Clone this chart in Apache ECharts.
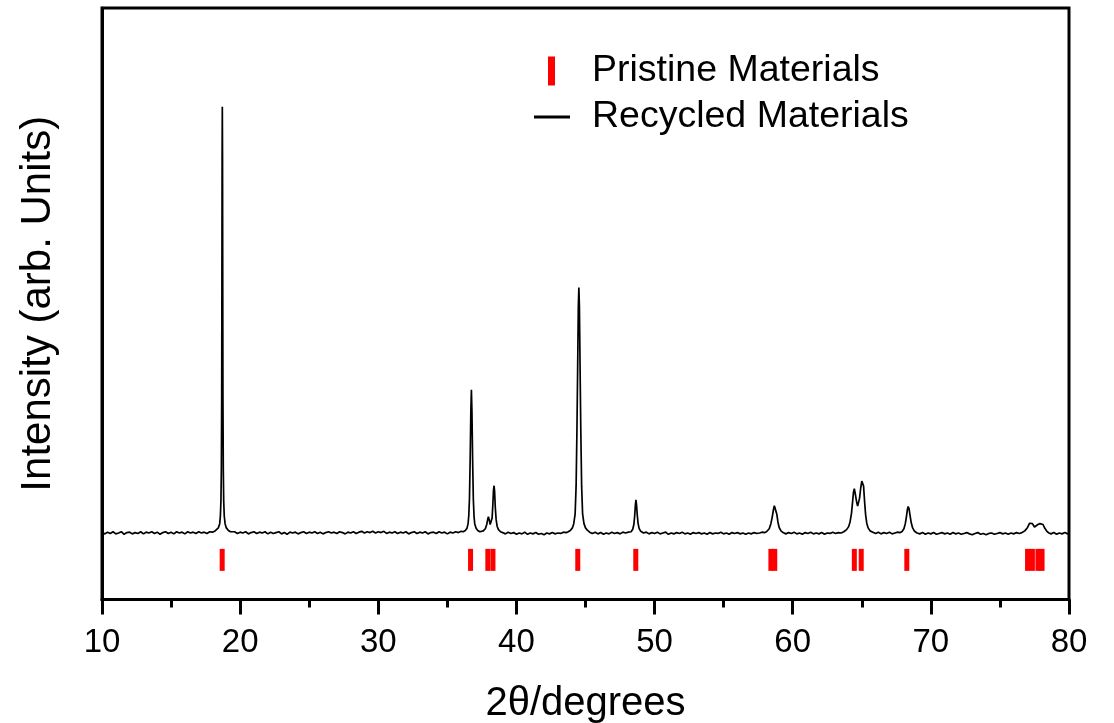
<!DOCTYPE html>
<html>
<head>
<meta charset="utf-8">
<script src="https://cdn.jsdelivr.net/npm/echarts@6/dist/echarts.min.js"></script>
<style>
html,body{margin:0;padding:0;background:#fff;}
#chart{width:1114px;height:723px;}
</style>
</head>
<body>
<div id="chart"></div>
<script>
// ---- data ----
const xTicks = [10, 20, 30, 40, 50, 60, 70, 80];
const seriesNames = ['Pristine Materials', 'Recycled Materials'];
const xAxisTitle = '2\u03b8/degrees';
const yAxisTitle = 'Intensity (arb. Units)';

// Pristine reference reflections (2theta positions)
const pristinePositions = [18.70, 36.68, 37.93, 38.30, 44.44, 48.64, 58.42, 58.70, 64.46, 64.96, 68.26, 77.00, 77.35, 77.75, 78.05];
const pristineLevel = -6.3;

// Recycled pattern [2theta, intensity]
const recycledBaseA = [[10.0,0.1],[10.2,-0.2],[10.4,0.2],[10.6,-0.1],[10.8,0.3],[11.0,-0.2],[11.2,0.0],[11.4,0.3],[11.6,-0.3],[11.8,0.1],[12.0,0.2],[12.2,-0.2],[12.4,0.1],[12.6,-0.1],[12.8,0.3],[13.0,-0.2],[13.2,0.2],[13.4,0.0],[13.6,0.3],[13.8,-0.1],[14.0,0.2],[14.2,-0.3],[14.4,0.1],[14.6,0.3],[14.8,-0.1],[15.0,0.2],[15.2,-0.2],[15.4,0.3],[15.6,0.0],[15.8,0.2],[16.0,-0.2],[16.2,0.3],[16.4,0.0],[16.6,0.2],[16.8,-0.1],[17.0,0.3],[17.2,0.0],[17.4,0.2],[17.6,-0.1],[17.8,0.3],[18.0,0.2],[18.15,0.4]];
const recycledPeak18 = [[18.28,0.6],[18.42,1.2],[18.52,2.2],[18.57,4],[18.61,7.5],[18.64,15],[18.665,32],[18.68,58],[18.695,88],[18.71,100],[18.725,88],[18.74,58],[18.755,32],[18.78,15],[18.81,7.5],[18.85,4],[18.91,2.2],[19.0,1.2],[19.15,0.6],[19.3,0.3]];
const recycledBaseB = [[19.4,0.1],[19.6,0.3],[19.8,-0.1],[20.0,0.2],[20.2,0.0],[20.4,0.3],[20.6,-0.2],[20.8,0.1],[21.0,0.3],[21.2,-0.1],[21.4,0.2],[21.6,0.0],[21.8,0.3],[22.0,-0.2],[22.2,0.2],[22.4,-0.1],[22.6,0.1],[22.8,0.3],[23.0,-0.2],[23.2,0.1],[23.4,-0.3],[23.6,0.2],[23.8,0.0],[24.0,0.2],[24.2,-0.2],[24.4,0.1],[24.6,0.3],[24.8,-0.1],[25.0,0.2],[25.2,0.0],[25.4,0.3],[25.6,-0.1],[25.8,0.2],[26.0,-0.2],[26.2,0.1],[26.4,0.3],[26.6,0.0],[26.8,0.2],[27.0,-0.1],[27.2,0.3],[27.4,0.1],[27.6,-0.2],[27.8,0.2],[28.0,0.0],[28.2,0.3],[28.4,-0.1],[28.6,0.2],[28.8,0.4],[29.0,0.0],[29.2,0.3],[29.4,0.1],[29.6,0.4],[29.8,0.0],[30.0,0.3],[30.2,0.1],[30.4,0.4],[30.6,-0.1],[30.8,0.2],[31.0,0.0],[31.2,0.3],[31.4,-0.1],[31.6,0.2],[31.8,0.0],[32.0,0.3],[32.2,-0.2],[32.4,0.1],[32.6,0.3],[32.8,-0.1],[33.0,0.2],[33.2,0.0],[33.4,0.3],[33.6,-0.2],[33.8,0.1],[34.0,0.2],[34.2,-0.1],[34.4,0.3],[34.6,0.0],[34.8,0.2],[35.0,-0.2],[35.2,0.2],[35.4,0.0],[35.6,0.3],[35.8,0.1],[36.0,0.4],[36.15,0.3]];
const recycledPeak36 = [[36.3,0.6],[36.42,1.1],[36.5,2.2],[36.55,4],[36.6,8],[36.65,17],[36.7,28.5],[36.74,33.6],[36.78,28.5],[36.83,17],[36.88,8],[36.93,4],[36.98,2.2],[37.08,1.1],[37.2,0.6],[37.35,0.3],[37.48,0.4]];
const recycledPeak38 = [[37.6,0.5],[37.75,1.0],[37.85,2.0],[37.92,3.2],[37.97,3.8],[38.03,3.1],[38.1,2.0],[38.17,2.0],[38.24,3.5],[38.29,6.5],[38.34,10.0],[38.38,11.1],[38.42,9.8],[38.47,6.0],[38.53,3.2],[38.6,1.6],[38.7,0.8],[38.85,0.3]];
const recycledBaseC = [[39.0,0.1],[39.2,-0.2],[39.4,0.2],[39.6,-0.1],[39.8,0.1],[40.0,-0.3],[40.2,0.0],[40.4,-0.2],[40.6,0.2],[40.8,-0.3],[41.0,0.0],[41.2,-0.2],[41.4,0.1],[41.6,-0.3],[41.8,-0.1],[42.0,-0.4],[42.2,0.0],[42.4,-0.2],[42.6,0.1],[42.8,-0.2],[43.0,0.0],[43.2,-0.1],[43.4,0.2],[43.6,0.1],[43.75,0.3]];
const recycledPeak44 = [[43.9,0.6],[44.05,1.2],[44.15,2.2],[44.25,4.5],[44.32,11],[44.38,24],[44.43,38],[44.48,53],[44.52,57.6],[44.56,53],[44.61,38],[44.66,24],[44.72,11],[44.79,4.5],[44.89,2.2],[45.0,1.2],[45.15,0.6]];
const recycledBaseD = [[45.3,0.2],[45.5,-0.1],[45.7,0.2],[45.9,-0.2],[46.1,0.1],[46.3,-0.3],[46.5,0.0],[46.7,-0.2],[46.9,0.2],[47.1,-0.1],[47.3,0.1],[47.5,-0.2],[47.7,0.2],[47.9,0.0],[48.1,0.2]];
const recycledPeak48 = [[48.3,0.3],[48.42,0.9],[48.5,2.0],[48.56,4.0],[48.61,6.5],[48.65,7.8],[48.69,6.8],[48.74,4.5],[48.8,2.4],[48.88,1.1],[49.0,0.4]];
const recycledBaseE = [[49.2,0.0],[49.4,0.2],[49.6,-0.2],[49.8,0.1],[50.0,-0.1],[50.2,0.2],[50.4,-0.2],[50.6,0.0],[50.8,0.2],[51.0,-0.3],[51.2,0.0],[51.4,-0.2],[51.6,0.1],[51.8,-0.1],[52.0,0.2],[52.2,-0.2],[52.4,0.0],[52.6,-0.3],[52.8,0.1],[53.0,-0.1],[53.2,0.1],[53.4,-0.2],[53.6,0.0],[53.8,-0.3],[54.0,0.1],[54.2,-0.2],[54.4,0.0],[54.6,-0.1],[54.8,0.2],[55.0,-0.2],[55.2,0.0],[55.4,-0.3],[55.6,0.1],[55.8,-0.1],[56.0,0.1],[56.2,-0.2],[56.4,0.0],[56.6,-0.3],[56.8,0.0],[57.0,-0.2],[57.2,0.1],[57.4,-0.1],[57.6,0.0],[57.8,0.2],[57.95,0.1]];
const recycledPeak58 = [[58.1,0.3],[58.3,1.0],[58.42,2.2],[58.52,3.8],[58.6,5.4],[58.67,6.4],[58.72,6.6],[58.78,6.0],[58.85,4.4],[58.93,2.6],[59.02,1.3],[59.15,0.5],[59.3,0.1]];
const recycledBaseF = [[59.5,-0.2],[59.7,0.1],[59.9,-0.1],[60.1,0.2],[60.3,-0.2],[60.5,0.0],[60.7,-0.3],[60.9,0.1],[61.1,-0.1],[61.3,0.2],[61.5,-0.2],[61.7,0.0],[61.9,-0.2],[62.1,0.1],[62.3,-0.3],[62.5,0.0],[62.7,-0.1],[62.9,0.2],[63.1,-0.1],[63.3,0.1],[63.5,0.0]];
const recycledPeak65 = [[63.7,0.3],[63.9,0.8],[64.05,1.5],[64.15,2.6],[64.25,4.5],[64.33,7.2],[64.4,9.6],[64.46,10.4],[64.53,9.2],[64.62,7.4],[64.7,6.3],[64.76,6.4],[64.84,8.2],[64.92,10.5],[65.0,12.2],[65.06,12.6],[65.13,11.0],[65.2,7.5],[65.28,4.2],[65.36,2.3],[65.46,1.2],[65.6,0.5],[65.8,0.2]];
const recycledBaseG = [[66.0,-0.1],[66.2,0.2],[66.4,-0.2],[66.6,0.1],[66.8,-0.1],[67.0,0.2],[67.2,-0.2],[67.4,0.0],[67.6,0.2],[67.75,0.1]];
const recycledPeak68 = [[67.9,0.3],[68.05,1.0],[68.15,2.2],[68.23,3.8],[68.3,5.5],[68.36,6.2],[68.42,5.7],[68.5,4.0],[68.58,2.4],[68.68,1.2],[68.82,0.4]];
const recycledBaseH = [[69.0,0.0],[69.2,-0.2],[69.4,0.1],[69.6,-0.3],[69.8,0.0],[70.0,-0.2],[70.2,0.1],[70.4,-0.3],[70.6,-0.1],[70.8,0.1],[71.0,-0.2],[71.2,0.0],[71.4,-0.3],[71.6,0.1],[71.8,-0.2],[72.0,0.0],[72.2,-0.3],[72.4,-0.1],[72.6,0.1],[72.8,-0.2],[73.0,-0.4],[73.2,-0.1],[73.4,0.1],[73.6,-0.3],[73.8,-0.1],[74.0,-0.4],[74.2,-0.1],[74.4,0.0],[74.6,-0.3],[74.8,-0.1],[75.0,0.1],[75.2,-0.2],[75.4,0.0],[75.6,-0.3],[75.8,0.0],[76.0,-0.2],[76.2,0.1],[76.4,-0.1]];
const recycledPeak77 = [[76.6,0.1],[76.8,0.5],[77.0,1.3],[77.15,2.3],[77.25,2.7],[77.35,2.2],[77.5,1.4],[77.62,1.6],[77.75,2.0],[77.9,2.2],[78.02,2.3],[78.12,2.0],[78.25,1.1],[78.4,0.4],[78.55,0.0]];
const recycledBaseI = [[78.7,-0.2],[78.9,0.1],[79.1,-0.3],[79.3,0.0],[79.5,-0.2],[79.7,0.1],[79.9,-0.2],[80.0,0.0]];

const recycled = [].concat(recycledBaseA, recycledPeak18, recycledBaseB, recycledPeak36, recycledPeak38,
  recycledBaseC, recycledPeak44, recycledBaseD, recycledPeak48, recycledBaseE, recycledPeak58,
  recycledBaseF, recycledPeak65, recycledBaseG, recycledPeak68, recycledBaseH, recycledPeak77, recycledBaseI);
const pristine = pristinePositions.map(p => [p, pristineLevel]);

// ---- chart ----
const FONT = '"Liberation Sans", Arial, Helvetica, sans-serif';
const chart = echarts.init(document.getElementById('chart'), null, {renderer: 'canvas'});
chart.setOption({
  backgroundColor: '#ffffff',
  animation: false,
  textStyle: {fontFamily: FONT, color: '#000'},
  grid: {left: 102, right: 45, top: 8, bottom: 123.5, outerBoundsMode: 'none', containLabel: false,
         show: true, borderColor: '#000', borderWidth: 3, backgroundColor: 'transparent'},
  legend: [
    {data: [seriesNames[0]], left: 548, top: 52, padding: 0, icon: 'rect', itemWidth: 7, itemHeight: 29,
     itemStyle: {opacity: 1},
     textStyle: {fontSize: 37.5, color: '#000', fontFamily: FONT, padding: [0, 0, 0, 32]}},
    {data: [seriesNames[1]], left: 534, top: 98, padding: 0, icon: 'rect', itemWidth: 36, itemHeight: 3,
     textStyle: {fontSize: 37.5, color: '#000', fontFamily: FONT, padding: [0, 0, 0, 17]}}
  ],
  xAxis: {
    type: 'value', min: xTicks[0], max: xTicks[xTicks.length - 1], interval: 10,
    name: xAxisTitle, nameLocation: 'middle', nameGap: 84,
    nameTextStyle: {fontSize: 40, color: '#000', fontFamily: FONT},
    axisLine: {show: true, onZero: false, lineStyle: {color: '#000', width: 3}},
    axisTick: {show: true, inside: false, length: 15, lineStyle: {color: '#000', width: 3}},
    minorTick: {show: true, splitNumber: 2, length: 8, lineStyle: {color: '#000', width: 3}},
    axisLabel: {fontSize: 33, color: '#000', margin: 27, fontFamily: FONT},
    splitLine: {show: false}, minorSplitLine: {show: false}
  },
  yAxis: {
    type: 'value', min: -15.6, max: 123.2,
    name: yAxisTitle, nameLocation: 'middle', nameGap: 43,
    nameTextStyle: {fontSize: 42, color: '#000', fontFamily: FONT},
    axisLine: {show: true, onZero: false, lineStyle: {color: '#000', width: 3}},
    axisTick: {show: false}, axisLabel: {show: false}, splitLine: {show: false}
  },
  series: [
    {name: seriesNames[0], type: 'scatter', data: pristine, symbol: 'rect', symbolSize: [5, 22],
     itemStyle: {color: '#ff0000', opacity: 1}, silent: true, z: 3},
    {name: seriesNames[1], type: 'line', data: recycled, showSymbol: false, symbol: 'none',
     lineStyle: {color: '#000', width: 1.7}, itemStyle: {color: '#000'}, silent: true, z: 2}
  ]
});
</script>
</body>
</html>
